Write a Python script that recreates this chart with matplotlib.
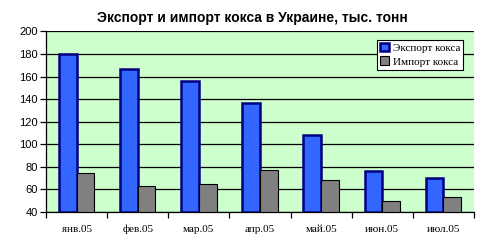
import numpy as np
import matplotlib.pyplot as plt
from matplotlib.ticker import FixedLocator

months = ["янв.05", "фев.05", "мар.05", "апр.05", "май.05", "июн.05", "июл.05"]
export_coke = [180, 167, 156, 137, 108, 76, 70]
import_coke = [75, 63, 65, 77, 68, 50, 53]

fig = plt.figure(figsize=(5, 2.46), dpi=100)
ax = fig.add_axes([0.092, 0.138, 0.856, 0.734])
ax.set_facecolor("#CCFFCC")

x = np.arange(len(months))
w = 0.29
ax.bar(x - w / 2, [v - 40 for v in export_coke], w, bottom=40, color="#3366FF",
       edgecolor="#000080", linewidth=1.8, label="Экспорт кокса", zorder=3)
ax.bar(x + w / 2, [v - 40 for v in import_coke], w, bottom=40, color="#808080",
       edgecolor="black", linewidth=0.8, label="Импорт кокса", zorder=3)

ax.set_ylim(40, 200)
ax.set_xlim(-0.5, len(months) - 0.5)
ax.set_yticks(range(40, 201, 20))
ax.yaxis.grid(True, color="black", linewidth=0.9, zorder=1)
ax.set_axisbelow(True)

ax.set_xticks(x)
ax.set_xticklabels(months, family="Liberation Serif", fontsize=8)
ax.xaxis.set_minor_locator(FixedLocator(np.arange(-0.5, len(months), 1)))
ax.tick_params(axis="x", which="major", length=0, pad=9)
ax.tick_params(axis="x", which="minor", length=4, width=0.9, direction="out")
ax.tick_params(axis="y", length=4, width=0.9, labelsize=8, pad=2)
for lbl in ax.get_yticklabels():
    lbl.set_family("Liberation Sans")

for s in ["top", "right"]:
    ax.spines[s].set_visible(False)
ax.spines["left"].set_linewidth(0.9)
ax.spines["bottom"].set_linewidth(0.9)

fig.text(0.505, 0.925, "Экспорт и импорт кокса в Украине, тыс. тонн",
         family="Liberation Sans", fontweight="bold", fontsize=10,
         ha="center", va="center")

leg = ax.legend(loc="upper right", bbox_to_anchor=(0.975, 0.955),
                prop={"family": "Liberation Serif", "size": 8}, frameon=True,
                fancybox=False, edgecolor="black", framealpha=1,
                handlelength=0.8, handleheight=0.8, handletextpad=0.3,
                borderpad=0.3, labelspacing=0.3, borderaxespad=0)
leg.get_frame().set_linewidth(0.8)

fig.savefig("out.png", dpi=100, facecolor="white")
